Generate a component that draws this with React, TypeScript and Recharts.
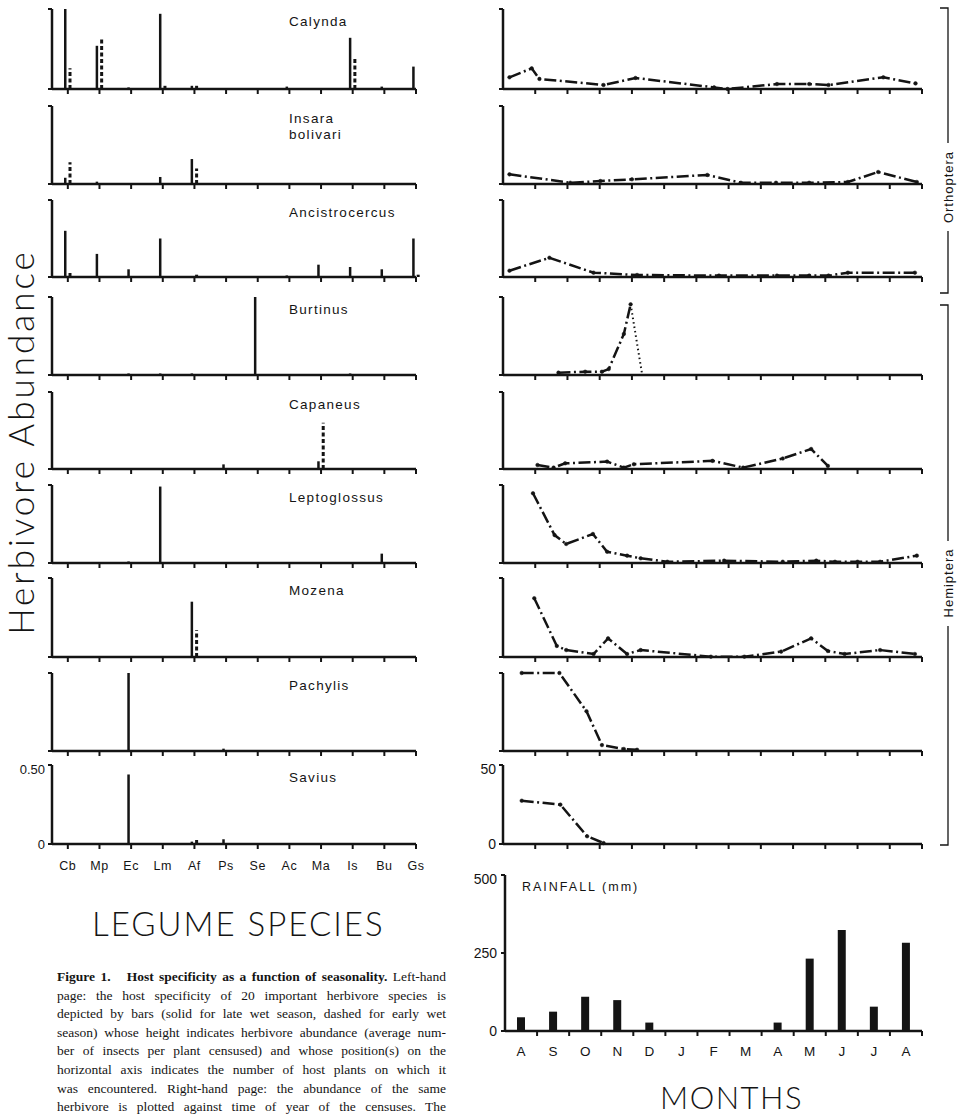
import React from 'react';
import { ComposedChart, LineChart, Bar, Line, XAxis, YAxis } from 'recharts';

const INK = '#141414';
const SANS = '"Liberation Sans", Arial, sans-serif';
const DISPLAY = 'Lato, "Liberation Sans", sans-serif';

// legume hosts along the left-hand axes
const hostCodes = ['Cb', 'Mp', 'Ec', 'Lm', 'Af', 'Ps', 'Se', 'Ac', 'Ma', 'Is', 'Bu', 'Gs'];
// census months, Aug through Aug
const monthLabels = ['A', 'S', 'O', 'N', 'D', 'J', 'F', 'M', 'A', 'M', 'J', 'J', 'A'];

const herbivoreNames = [
  'Calynda', 'Insara\nbolivari', 'Ancistrocercus', 'Burtinus', 'Capaneus',
  'Leptoglossus', 'Mozena', 'Pachylis', 'Savius',
];

// insects per plant on each host: late wet season (solid) / early wet season (dashed)
const calyndaLate = [0.5, 0.27, 0.01, 0.47, 0.02, 0, 0, 0.015, 0, 0.32, 0.015, 0.14];
const calyndaEarly = [0.13, 0.32, 0, 0.02, 0.02, 0, 0, 0, 0, 0.2, 0, 0];
const insaraLate = [0.04, 0.015, 0, 0.045, 0.16, 0, 0, 0, 0, 0, 0, 0];
const insaraEarly = [0.14, 0, 0, 0, 0.1, 0, 0, 0, 0, 0, 0, 0];
const ancistroLate = [0.3, 0.15, 0.05, 0.25, 0, 0, 0, 0.01, 0.08, 0.065, 0.05, 0.25];
const ancistroEarly = [0.03, 0, 0, 0, 0.015, 0, 0, 0, 0, 0, 0, 0.015];
const burtinusLate = [0, 0, 0.01, 0.01, 0.01, 0, 0.5, 0, 0, 0.01, 0, 0];
const burtinusEarly = [0, 0, 0, 0, 0, 0, 0, 0, 0, 0, 0, 0];
const capaneusLate = [0, 0, 0, 0, 0, 0.03, 0, 0, 0.05, 0, 0, 0];
const capaneusEarly = [0, 0, 0, 0, 0, 0, 0, 0, 0.3, 0, 0, 0];
const leptoLate = [0, 0, 0.01, 0.49, 0, 0, 0, 0, 0, 0, 0.06, 0];
const leptoEarly = [0, 0, 0, 0, 0, 0, 0, 0, 0, 0, 0, 0];
const mozenaLate = [0, 0, 0, 0, 0.35, 0, 0, 0, 0, 0, 0, 0];
const mozenaEarly = [0, 0, 0, 0, 0.17, 0, 0, 0, 0, 0, 0, 0];
const pachylisLate = [0, 0, 0.5, 0, 0, 0.015, 0, 0, 0, 0, 0, 0];
const pachylisEarly = [0, 0, 0, 0, 0, 0, 0, 0, 0, 0, 0, 0];
const saviusLate = [0, 0, 0.44, 0, 0.015, 0.03, 0, 0, 0, 0, 0, 0];
const saviusEarly = [0, 0, 0, 0, 0.03, 0, 0, 0, 0, 0, 0, 0];

const hostLate = [calyndaLate, insaraLate, ancistroLate, burtinusLate, capaneusLate, leptoLate, mozenaLate, pachylisLate, saviusLate];
const hostEarly = [calyndaEarly, insaraEarly, ancistroEarly, burtinusEarly, capaneusEarly, leptoEarly, mozenaEarly, pachylisEarly, saviusEarly];

// census dates (months since 1 Aug) and abundance at each census
const calyndaMonths = [0.2, 0.89, 1.13, 3.12, 4.11, 6.55, 6.97, 8.5, 9.5, 10.1, 11.8, 12.8];
const calyndaCounts = [7.3, 12.9, 6.3, 2.5, 6.9, 1, 0, 3.1, 3.1, 2.5, 7.3, 3.5];
const insaraMonths = [0.2, 2.09, 3.02, 4.0, 6.34, 7.38, 8.47, 9.5, 10.7, 11.64, 12.84];
const insaraCounts = [6.2, 0.8, 1.9, 3.0, 5.8, 0.8, 0.8, 0.8, 1.3, 7.7, 1.3];
const ancistroMonths = [0.2, 1.44, 2.81, 4.16, 6.7, 8.5, 9.5, 10.1, 10.7, 12.78];
const ancistroCounts = [4.1, 12.5, 2.8, 1.3, 0.9, 0.9, 0.9, 0.9, 2.8, 2.8];
const burtinusMonths = [1.72, 2.55, 3.07, 3.28, 3.75, 3.96];
const burtinusCounts = [1.5, 2.1, 2.1, 3.8, 26.3, 45.3];
const burtinusTailMonths = [3.96, 4.32];
const burtinusTailCounts = [45.3, 0];
const capaneusMonths = [1.07, 1.57, 1.93, 3.23, 3.75, 4.06, 6.5, 7.45, 8.68, 9.56, 10.08];
const capaneusCounts = [2.6, 0.9, 3.7, 4.8, 0.9, 3.1, 5.3, 0.9, 6.8, 13, 2];
const leptoMonths = [0.93, 1.6, 1.96, 2.79, 3.23, 3.85, 4.27, 5.1, 6.86, 8.68, 9.72, 10.3, 11.0, 11.7, 12.84];
const leptoCounts = [44.7, 17.9, 12.2, 18.6, 7.2, 4.7, 3, 0.8, 1.5, 0.8, 1.5, 0.8, 0.8, 0.8, 4.7];
const mozenaMonths = [0.97, 1.67, 1.96, 2.81, 3.26, 3.85, 4.27, 6.45, 7.49, 8.63, 9.56, 10.08, 10.6, 11.7, 12.78];
const mozenaCounts = [37.2, 7, 4.4, 1.9, 11.8, 1.9, 4.4, 0.2, 0.2, 3.4, 11.8, 3.8, 1.9, 4.4, 1.9];
const pachylisMonths = [0.58, 1.75, 2.59, 3.07, 3.75, 4.16];
const pachylisCounts = [50, 50, 25.5, 3.8, 1.3, 0.8];
const saviusMonths = [0.58, 1.78, 2.61, 3.12];
const saviusCounts = [27.4, 24.9, 4.9, 0.6];

const seasonMonths = [calyndaMonths, insaraMonths, ancistroMonths, burtinusMonths, capaneusMonths, leptoMonths, mozenaMonths, pachylisMonths, saviusMonths];
const seasonCounts = [calyndaCounts, insaraCounts, ancistroCounts, burtinusCounts, capaneusCounts, leptoCounts, mozenaCounts, pachylisCounts, saviusCounts];

// monthly rainfall (mm)
const rainfall = [44, 62, 110, 99, 27, 0, 0, 0, 27, 232, 324, 78, 283];

const captionLines = [
  'page: the host specificity of 20 important herbivore species is',
  'depicted by bars (solid for late wet season, dashed for early wet',
  'season) whose height indicates herbivore abundance (average num-',
  'ber of insects per plant censused) and whose position(s) on the',
  'horizontal axis indicates the number of host plants on which it',
  'was encountered. Right-hand page: the abundance of the same',
  'herbivore is plotted against time of year of the censuses. The',
];

// panel rows: top of the y axis and baseline, in page pixels
const ROW_TOP = [9, 106, 200, 297, 392, 485, 578, 673, 765];
const ROW_BASE = [89, 184, 277, 375, 469, 563, 657, 751, 844];
const PAD = 4;

const axisLine = { stroke: INK, strokeWidth: 2.5 };
const tickLine = { stroke: INK, strokeWidth: 2 };
const DASH_DOT = '12 3.5 2 3.5';

const SolidStem = (props: any) => {
  const { x, y, width, height } = props;
  if (!height || height <= 0) return null;
  return <rect x={x} y={y} width={width} height={height} fill={INK} />;
};

const DashedStem = (props: any) => {
  const { x, y, width, height } = props;
  if (!height || height <= 0) return null;
  const cx = x + width / 2;
  return <line x1={cx} x2={cx} y1={y + height} y2={y} stroke={INK} strokeWidth={width} strokeDasharray="4 2.5" />;
};

function HostPanel({ row }: { row: number }) {
  const last = row === ROW_TOP.length - 1;
  const axisH = last ? 34 : 10;
  const h = ROW_BASE[row] - ROW_TOP[row] + PAD + axisH;
  const data = hostCodes.map((code, i) => ({ host: i, late: hostLate[row][i], early: hostEarly[row][i] }));
  return (
    <div style={{ position: 'absolute', left: 0, top: ROW_TOP[row] - PAD }}>
      <ComposedChart width={430} height={h} data={data} margin={{ top: PAD, right: 14, bottom: 0, left: 0 }} barGap={2}>
        <XAxis
          dataKey="host"
          type="number"
          domain={[-0.5, 11]}
          ticks={hostCodes.map((_, i) => i)}
          interval={0}
          height={axisH}
          tickSize={5}
          tickMargin={12}
          axisLine={axisLine}
          tickLine={tickLine}
          tickFormatter={(v: number) => (last ? hostCodes[v] : '')}
          tick={{ fill: INK, fontSize: 12.5, fontFamily: SANS, letterSpacing: 0.5 }}
        />
        <YAxis
          type="number"
          domain={[0, 0.5]}
          ticks={[0, 0.5]}
          width={52}
          tickSize={4}
          tickMargin={3}
          axisLine={axisLine}
          tickLine={tickLine}
          tickFormatter={(v: number) => (last ? (v === 0 ? '0' : '0.50') : '')}
          tick={{ fill: INK, fontSize: 13, fontFamily: SANS }}
        />
        <Bar dataKey="late" barSize={2.5} shape={SolidStem} isAnimationActive={false} />
        <Bar dataKey="early" barSize={3} shape={DashedStem} isAnimationActive={false} />
      </ComposedChart>
    </div>
  );
}

const censusDot = { r: 1.8, fill: INK, stroke: INK, strokeWidth: 0.5 };

function SeasonPanel({ row }: { row: number }) {
  const last = row === ROW_TOP.length - 1;
  const h = ROW_BASE[row] - ROW_TOP[row] + PAD + 10;
  const data = seasonMonths[row].map((m, i) => ({ m, n: seasonCounts[row][i] }));
  const tail = row === 3 ? burtinusTailMonths.map((m, i) => ({ m, n: burtinusTailCounts[i] })) : null;
  return (
    <div style={{ position: 'absolute', left: 460, top: ROW_TOP[row] - PAD }}>
      <LineChart width={480} height={h} margin={{ top: PAD, right: 18, bottom: 0, left: 0 }}>
        <XAxis
          dataKey="m"
          type="number"
          domain={[0, 13]}
          ticks={monthLabels.map((_, i) => i + 1)}
          interval={0}
          height={10}
          tickSize={5}
          axisLine={axisLine}
          tickLine={tickLine}
          tickFormatter={() => ''}
        />
        <YAxis
          type="number"
          domain={[0, 50]}
          ticks={[0, 50]}
          width={43}
          tickSize={4}
          tickMargin={3}
          axisLine={axisLine}
          tickLine={tickLine}
          tickFormatter={(v: number) => (last ? String(v) : '')}
          tick={{ fill: INK, fontSize: 14, fontFamily: SANS }}
        />
        <Line
          data={data}
          dataKey="n"
          type="linear"
          stroke={INK}
          strokeWidth={2.5}
          strokeDasharray={DASH_DOT}
          dot={censusDot}
          activeDot={false}
          isAnimationActive={false}
        />
        {tail && (
          <Line
            data={tail}
            dataKey="n"
            type="linear"
            stroke={INK}
            strokeWidth={2}
            strokeDasharray="1.5 3"
            dot={false}
            activeDot={false}
            isAnimationActive={false}
          />
        )}
      </LineChart>
    </div>
  );
}

const RAIN_PLOT_W = 417;
const MonthTick = (props: any) => {
  const { x, y, payload } = props;
  const band = RAIN_PLOT_W / monthLabels.length;
  return (
    <text x={x - band / 2} y={y} dy="0.71em" textAnchor="middle" fill={INK} fontSize={13.5} fontFamily={SANS}>
      {monthLabels[payload.value - 1]}
    </text>
  );
};

function RainPanel() {
  const data = rainfall.map((mm, i) => ({ m: i + 0.5, mm }));
  return (
    <div style={{ position: 'absolute', left: 460, top: 875 - PAD }}>
      <ComposedChart width={480} height={1031 - 875 + PAD + 36} data={data} margin={{ top: PAD, right: 18, bottom: 0, left: 0 }}>
        <XAxis
          dataKey="m"
          type="number"
          domain={[0, 13]}
          ticks={monthLabels.map((_, i) => i + 1)}
          interval={0}
          height={36}
          tickSize={5}
          tickMargin={10}
          axisLine={axisLine}
          tickLine={tickLine}
          tick={<MonthTick />}
        />
        <YAxis
          type="number"
          domain={[0, 500]}
          ticks={[0, 250, 500]}
          width={45}
          tickSize={4}
          tickMargin={4}
          axisLine={axisLine}
          tickLine={tickLine}
          tick={{ fill: INK, fontSize: 14, fontFamily: SANS }}
        />
        <Bar dataKey="mm" barSize={8} fill={INK} isAnimationActive={false} />
      </ComposedChart>
    </div>
  );
}

export default function App() {
  return (
    <div style={{ position: 'absolute', left: 0, top: 0, width: 957, height: 1116, background: '#fff', color: INK, fontFamily: SANS, overflow: 'hidden' }}>
      {ROW_TOP.map((_, row) => <HostPanel key={`h${row}`} row={row} />)}
      {ROW_TOP.map((_, row) => <SeasonPanel key={`s${row}`} row={row} />)}
      <RainPanel />

      {herbivoreNames.map((name, row) => (
        <div
          key={name}
          style={{ position: 'absolute', left: 289, top: ROW_TOP[row] + 5, fontSize: 13.5, lineHeight: '16px', letterSpacing: 1.3, whiteSpace: 'pre-line' }}
        >
          {name}
        </div>
      ))}

      <div
        style={{ position: 'absolute', left: 20, top: 442, transform: 'translate(-50%, -50%) rotate(-90deg)', whiteSpace: 'nowrap', fontFamily: DISPLAY, fontWeight: 300, fontSize: 35, letterSpacing: 3 }}
      >
        Herbivore Abundance
      </div>
      <div style={{ position: 'absolute', left: 92, top: 903, whiteSpace: 'nowrap', fontFamily: DISPLAY, fontWeight: 300, fontSize: 33, letterSpacing: 2 }}>
        LEGUME SPECIES
      </div>
      <div style={{ position: 'absolute', left: 660, top: 1085, lineHeight: '24px', whiteSpace: 'nowrap', fontFamily: DISPLAY, fontWeight: 300, fontSize: 31, letterSpacing: 1.5 }}>
        MONTHS
      </div>
      <div style={{ position: 'absolute', left: 522, top: 880, whiteSpace: 'nowrap', fontSize: 12.5, letterSpacing: 2 }}>
        RAINFALL (mm)
      </div>

      <svg width={957} height={1116} style={{ position: 'absolute', left: 0, top: 0, pointerEvents: 'none' }}>
        <path d="M940 8 H948 V143 M948 231 V293 H940" fill="none" stroke={INK} strokeWidth={1.3} />
        <path d="M940 305 H948 V541 M948 626 V845 H940" fill="none" stroke={INK} strokeWidth={1.3} />
        <text x={948} y={187} transform="rotate(-90 948 187)" textAnchor="middle" dominantBaseline="central" fontSize={13} letterSpacing={1} fill={INK} fontFamily={SANS}>
          Orthoptera
        </text>
        <text x={948} y={583} transform="rotate(-90 948 583)" textAnchor="middle" dominantBaseline="central" fontSize={13} letterSpacing={1} fill={INK} fontFamily={SANS}>
          Hemiptera
        </text>
      </svg>

      <div style={{ position: 'absolute', left: 57, top: 968, width: 389, fontFamily: '"Liberation Serif", "Times New Roman", serif', fontSize: 13.5, lineHeight: '18.6px' }}>
        <div style={{ textAlign: 'justify', textAlignLast: 'justify' }}>
          <b>Figure 1.</b>&nbsp;&nbsp; <b>Host specificity as a function of seasonality.</b> Left-hand
        </div>
        {captionLines.map((line) => (
          <div key={line} style={{ textAlign: 'justify', textAlignLast: 'justify' }}>{line}</div>
        ))}
      </div>
    </div>
  );
}
